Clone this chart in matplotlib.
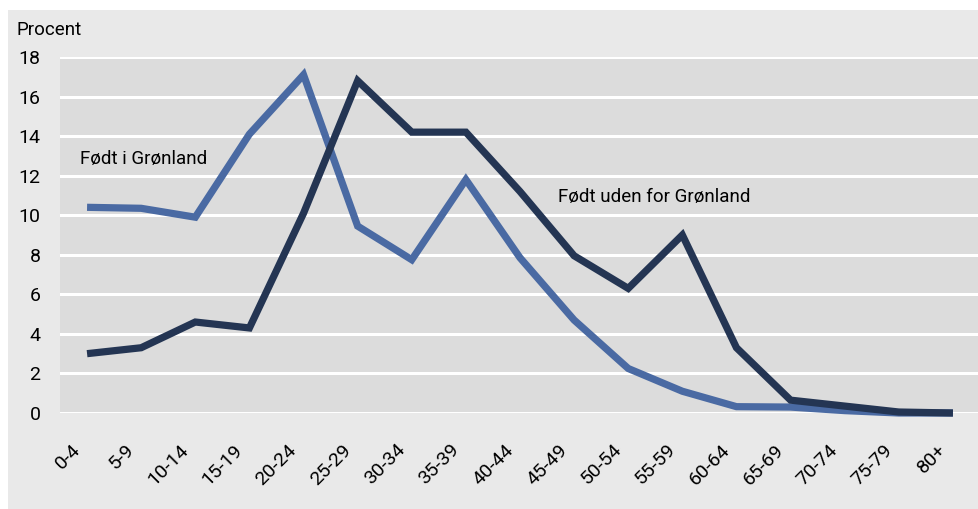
import numpy as np
import matplotlib.pyplot as plt
from matplotlib.patches import Rectangle
import matplotlib.transforms as mtransforms

#------------------------------------
# Data
#------------------------------------

ages = ["0-4", "5-9", "10-14", "15-19", "20-24", "25-29", "30-34", "35-39",
        "40-44", "45-49", "50-54", "55-59", "60-64", "65-69", "70-74",
        "75-79", "80+"]

born_gl = [10.4, 10.35, 9.9, 14.1, 17.1, 9.45, 7.75, 11.8,
           7.85, 4.7, 2.25, 1.1, 0.32, 0.3, 0.12, 0.0, 0.0]

born_out = [3.0, 3.3, 4.6, 4.3, 10.1, 16.8, 14.2, 14.2,
            11.2, 7.95, 6.3, 9.0, 3.3, 0.65, 0.35, 0.05, 0.0]

yticks = np.arange(0, 19, 2)

#------------------------------------
# Style
#------------------------------------

plt.rcParams['font.family'] = ['Liberation Sans Narrow', 'Roboto', 'DejaVu Sans']

c_blue = '#4a6aa3'
c_dark = '#243553'

fig = plt.figure(figsize=(9.79, 5.09), dpi=100)
fig.patch.set_facecolor('white')

# outer light grey panel
fig.patches.append(Rectangle((8/979, 0), 1 - 8/979, 1 - 10/509,
                             transform=fig.transFigure, facecolor='#e9e9e9',
                             edgecolor='none', zorder=-5))

ax = fig.add_axes([60/979, (509-413)/509, 920/979, 356/509])
ax.set_zorder(2)
ax.set_facecolor('#dcdcdc')

x = np.arange(len(ages))
ax.plot(x, born_gl, color=c_blue, lw=5.2, solid_joinstyle='miter',
        solid_capstyle='butt', clip_on=False, zorder=3)
ax.plot(x, born_out, color=c_dark, lw=5.2, solid_joinstyle='miter',
        solid_capstyle='butt', clip_on=False, zorder=4)

ax.set_xlim(-0.5, len(ages) - 0.5)
ax.set_ylim(0, 18)

ax.set_yticks(yticks)
ax.set_yticklabels([str(v) for v in yticks], fontsize=14)
ax.yaxis.grid(True, color='white', lw=2.2)
ax.set_axisbelow(True)
ax.tick_params(axis='y', length=0, pad=14)

ax.set_xticks(x)
ax.set_xticklabels(ages, fontsize=14, rotation=45, ha='right',
                   rotation_mode='anchor')
ax.tick_params(axis='x', length=0, pad=20)
offset = mtransforms.ScaledTranslation(-16/100, 0, fig.dpi_scale_trans)
for lab in ax.get_xticklabels():
    lab.set_transform(lab.get_transform() + offset)

for s in ax.spines.values():
    s.set_visible(False)

ax.text(-0.13, 12.85, "Født i Grønland", fontsize=13.5, ha='left', va='center')
ax.text(8.7, 10.9, "Født uden for Grønland", fontsize=13.5, ha='left', va='center')

fig.text(17/979, 1 - 30/509, "Procent", fontsize=13.5, ha='left', va='center')

fig.savefig('out.png', dpi=100)
